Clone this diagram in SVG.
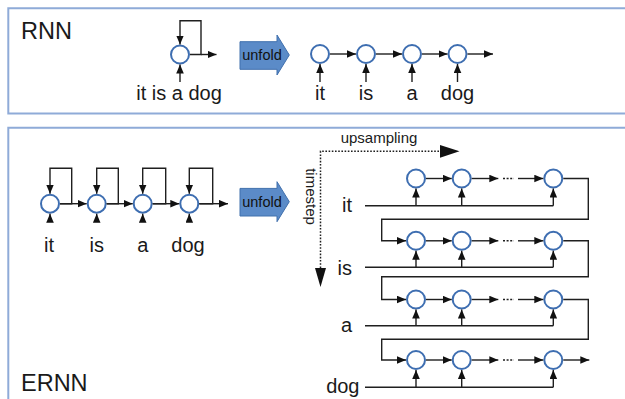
<svg xmlns="http://www.w3.org/2000/svg" width="625" height="399" viewBox="0 0 625 399">
  <style>
    .frame { fill: none; stroke: #8fabd8; stroke-width: 2; }
    .cell { fill: #ffffff; stroke: #3e6eb1; stroke-width: 2; }
    .wire { fill: none; stroke: #1f1f1f; stroke-width: 1.4; }
    .arr { fill: none; stroke: #1f1f1f; stroke-width: 1.4; marker-end: url(#head); }
    .dots { fill: none; stroke: #1f1f1f; stroke-width: 1.6; stroke-dasharray: 2 1.6; }
    .guide { fill: none; stroke: #1f1f1f; stroke-width: 1.5; stroke-dasharray: 1.6 1.6; }
    .title { font-family: "Liberation Sans", Arial, sans-serif; font-size: 23.5px; fill: #1a1a1a; }
    .word { font-family: "Liberation Sans", Arial, sans-serif; font-size: 20px; fill: #1a1a1a; }
    .small { font-family: "Liberation Sans", Arial, sans-serif; font-size: 15px; fill: #1a1a1a; }
    .unfold-shape { fill: #5b8bc8; stroke: #4170ad; stroke-width: 1; }
    .unfold-text { font-family: "Liberation Sans", Arial, sans-serif; font-size: 14.5px; fill: #111; }
  </style>
  <defs>
    <marker id="head" markerUnits="userSpaceOnUse" markerWidth="10" markerHeight="9" refX="9" refY="3.8" orient="auto">
      <path d="M0,0 L9,3.8 L0,7.6 Z" fill="#111"/>
    </marker>
    <g id="unfold">
      <path class="unfold-shape" d="M240,41.7 H277 V35 L289.3,55 L277,75 V69.3 H240 Z"/>
      <text class="unfold-text" x="262" y="60" text-anchor="middle">unfold</text>
    </g>
  </defs>

  <rect fill="#ffffff" x="0" y="0" width="625" height="399"/>

  <!-- panel frames -->
  <g id="frames">
    <path class="frame" d="M630,8.3 H8.3 V113.5 H630"/>
    <path class="frame" d="M630,127.7 H8.3 V405"/>
  </g>

  <!-- titles -->
  <text class="title" x="21" y="38.5">RNN</text>
  <text class="title" x="21" y="390.5">ERNN</text>

  <!-- ================= RNN panel ================= -->
  <g id="rnn-folded">
    <circle class="cell" cx="180" cy="54.5" r="9"/>
    <text class="word" x="179" y="100" text-anchor="middle">it is a dog</text>
  </g>
  <use href="#unfold" id="unfold-rnn"/>
  <g id="rnn-unrolled">
    <circle class="cell" cx="320" cy="54" r="9"/>
    <circle class="cell" cx="366" cy="54" r="9"/>
    <circle class="cell" cx="412" cy="54" r="9"/>
    <circle class="cell" cx="457.5" cy="54" r="9"/>
    <text class="word" x="320" y="100" text-anchor="middle">it</text>
    <text class="word" x="366" y="100" text-anchor="middle">is</text>
    <text class="word" x="412" y="100" text-anchor="middle">a</text>
    <text class="word" x="457.5" y="100" text-anchor="middle">dog</text>
  </g>

  <!-- ================= ERNN panel ================= -->
  <g id="ernn-folded">
    <circle class="cell" cx="50" cy="203.7" r="9"/>
    <circle class="cell" cx="96.7" cy="203.7" r="9"/>
    <circle class="cell" cx="142.7" cy="203.7" r="9"/>
    <circle class="cell" cx="189.3" cy="203.7" r="9"/>
    <text class="word" x="49" y="251.7" text-anchor="middle">it</text>
    <text class="word" x="96.7" y="251.7" text-anchor="middle">is</text>
    <text class="word" x="142.7" y="251.7" text-anchor="middle">a</text>
    <text class="word" x="188" y="251.7" text-anchor="middle">dog</text>
  </g>
  <use href="#unfold" id="unfold-ernn" transform="translate(0,146.7)"/>

  <g id="axes">
    <text class="small" x="379" y="143.3" text-anchor="middle">upsampling</text>
    <text class="small" transform="translate(305.5,196.5) rotate(90)" text-anchor="middle">timestep</text>
  </g>

  <g id="ernn-grid">
    <g id="row-it">
      <circle class="cell" cx="416" cy="178.5" r="9"/>
      <circle class="cell" cx="461.7" cy="178.5" r="9"/>
      <circle class="cell" cx="553.3" cy="178.5" r="9"/>
      <text class="word" x="352" y="212" text-anchor="end">it</text>
    </g>
    <g id="row-is">
      <circle class="cell" cx="416" cy="240.8" r="9"/>
      <circle class="cell" cx="461.7" cy="240.8" r="9"/>
      <circle class="cell" cx="553.3" cy="240.8" r="9"/>
      <text class="word" x="352" y="275" text-anchor="end">is</text>
    </g>
    <g id="row-a">
      <circle class="cell" cx="416" cy="299.5" r="9"/>
      <circle class="cell" cx="461.7" cy="299.5" r="9"/>
      <circle class="cell" cx="553.3" cy="299.5" r="9"/>
      <text class="word" x="352" y="331.7" text-anchor="end">a</text>
    </g>
    <g id="row-dog">
      <circle class="cell" cx="416" cy="360" r="9"/>
      <circle class="cell" cx="461.7" cy="360" r="9"/>
      <circle class="cell" cx="553.3" cy="360" r="9"/>
      <text class="word" x="359.5" y="393" text-anchor="end">dog</text>
    </g>
  </g>

  <!-- ================= connectors ================= -->
  <g id="connectors">
    <!-- RNN folded cell -->
    <path class="arr" d="M190,54.5 H201 V20.7 H180 V44.5"/>
    <path class="arr" d="M201,54.5 H216.5"/>
    <path class="arr" d="M180,82 V64.5"/>

    <!-- RNN unrolled chain -->
    <path class="arr" d="M330,54 H356"/>
    <path class="arr" d="M376,54 H402"/>
    <path class="arr" d="M422,54 H447.5"/>
    <path class="arr" d="M467.5,54 H493"/>
    <path class="arr" d="M320,82 V64"/>
    <path class="arr" d="M366,82 V64"/>
    <path class="arr" d="M412,82 V64"/>
    <path class="arr" d="M457.5,82 V64"/>

    <!-- ERNN folded cells: self loops and chain -->
    <path class="arr" d="M60,203.7 H71.7 V168.3 H50 V193.7"/>
    <path class="arr" d="M106.7,203.7 H118.3 V168.3 H96.7 V193.7"/>
    <path class="arr" d="M152.7,203.7 H165.7 V168.3 H142.7 V193.7"/>
    <path class="arr" d="M199.3,203.7 H212.7 V168.3 H189.3 V193.7"/>
    <path class="arr" d="M60,203.7 H86.7"/>
    <path class="arr" d="M106.7,203.7 H132.7"/>
    <path class="arr" d="M152.7,203.7 H179.3"/>
    <path class="arr" d="M199.3,203.7 H228"/>
    <path class="arr" d="M50,222 V213.7"/>
    <path class="arr" d="M96.7,222 V213.7"/>
    <path class="arr" d="M142.7,222 V213.7"/>
    <path class="arr" d="M189.3,222 V213.7"/>

    <!-- upsampling / timestep guides -->
    <path class="guide" d="M320.5,268 V151.3 H440"/>
    <path d="M440,145 L459.5,151.3 L440,157.7 Z" fill="#111"/>
    <path d="M315,268 L326,268 L320.5,287 Z" fill="#111"/>

    <!-- row "it" -->
    <path class="arr" d="M426,178.5 H451.7"/>
    <path class="arr" d="M471.7,178.5 H498.3"/>
    <path class="dots" d="M503,178.5 H514"/>
    <path class="arr" d="M518,178.5 H543.3"/>
    <path class="wire" d="M365,205.7 H553.3"/>
    <path class="arr" d="M416,205.7 V188.5"/>
    <path class="arr" d="M461.7,205.7 V188.5"/>
    <path class="arr" d="M553.3,205.7 V188.5"/>
    <path class="arr" d="M563.3,178.5 H588.3 V219.3 H381.7 V240.8 H406"/>

    <!-- row "is" -->
    <path class="arr" d="M426,240.8 H451.7"/>
    <path class="arr" d="M471.7,240.8 H498.3"/>
    <path class="dots" d="M503,240.8 H514"/>
    <path class="arr" d="M518,240.8 H543.3"/>
    <path class="wire" d="M365,267.3 H553.3"/>
    <path class="arr" d="M416,267.3 V250.8"/>
    <path class="arr" d="M461.7,267.3 V250.8"/>
    <path class="arr" d="M553.3,267.3 V250.8"/>
    <path class="arr" d="M563.3,240.8 H588.3 V276.7 H381.7 V299.5 H406"/>

    <!-- row "a" -->
    <path class="arr" d="M426,299.5 H451.7"/>
    <path class="arr" d="M471.7,299.5 H498.3"/>
    <path class="dots" d="M503,299.5 H514"/>
    <path class="arr" d="M518,299.5 H543.3"/>
    <path class="wire" d="M365,325.7 H553.3"/>
    <path class="arr" d="M416,325.7 V309.5"/>
    <path class="arr" d="M461.7,325.7 V309.5"/>
    <path class="arr" d="M553.3,325.7 V309.5"/>
    <path class="arr" d="M563.3,299.5 H588.3 V339.3 H381.7 V360 H406"/>

    <!-- row "dog" -->
    <path class="arr" d="M426,360 H451.7"/>
    <path class="arr" d="M471.7,360 H498.3"/>
    <path class="dots" d="M503,360 H514"/>
    <path class="arr" d="M518,360 H543.3"/>
    <path class="wire" d="M365,387.3 H553.3"/>
    <path class="arr" d="M416,387.3 V370"/>
    <path class="arr" d="M461.7,387.3 V370"/>
    <path class="arr" d="M553.3,387.3 V370"/>
    <path class="arr" d="M563.3,360 H589.3"/>
  </g>
</svg>
